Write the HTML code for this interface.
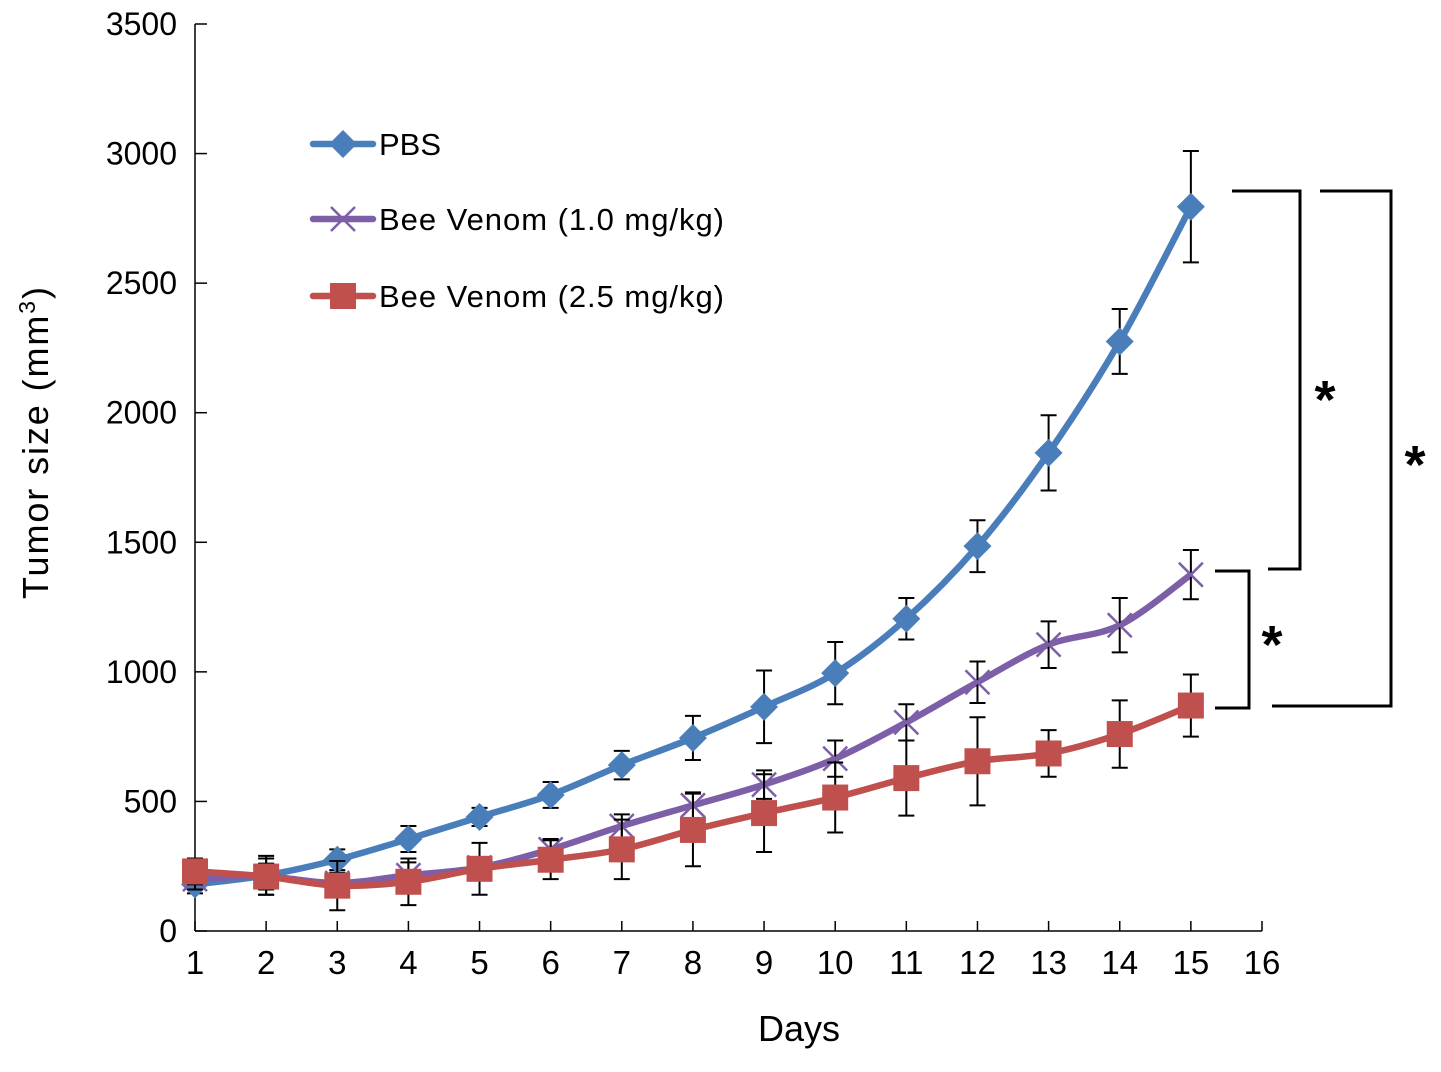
<!DOCTYPE html>
<html><head><meta charset="utf-8"><style>
html,body{margin:0;padding:0;background:#fff;}
svg text{font-family:"Liberation Sans",sans-serif;}
</style></head><body>
<svg id="chart" width="1441" height="1067" viewBox="0 0 1441 1067" xmlns="http://www.w3.org/2000/svg">
<rect width="1441" height="1067" fill="#fff"/>
<g id="axes"></g>
<g id="series"></g>
<g id="legend"></g>
<g id="sig"></g>
<text x="799" y="1041" font-size="36" text-anchor="middle">Days</text>
<text transform="translate(48,443) rotate(-90)" font-size="36" text-anchor="middle" textLength="312">Tumor size (mm<tspan font-size="23" dy="-13">3</tspan><tspan dy="13">)</tspan></text>
</svg>
<script>
const days=[1,2,3,4,5,6,7,8,9,10,11,12,13,14,15];
const xTicks=[1,2,3,4,5,6,7,8,9,10,11,12,13,14,15,16];
const yTicks=[0,500,1000,1500,2000,2500,3000,3500];
const pbs=[180,215,275,355,440,525,640,745,865,995,1205,1485,1845,2275,2795];
const pbsErr=[35,75,40,50,35,50,55,85,140,120,80,100,145,125,215];
const bv1=[200,210,185,215,245,315,405,485,565,665,805,960,1105,1180,1375];
const bv1Err=[40,50,40,50,40,40,45,50,55,70,70,80,90,105,95];
const bv2=[230,210,175,190,240,275,315,390,455,515,590,655,685,760,870];
const bv2Err=[50,70,95,90,100,75,115,140,150,135,145,170,90,130,120];
const NS='http://www.w3.org/2000/svg';
const X=d=>195+(d-1)*(1262-195)/15;
const Y=v=>931-v*(931-24)/3500;
function el(tag,attrs,parent){const e=document.createElementNS(NS,tag);for(const k in attrs)e.setAttribute(k,attrs[k]);parent.appendChild(e);return e;}
const axes=document.getElementById('axes');
let a=el('line',{x1:195,y1:24,x2:195,y2:931,stroke:'#000','stroke-width':1.5},axes);


a=el('line',{x1:195,y1:931,x2:1262,y2:931,stroke:'#000','stroke-width':1.5},axes);


yTicks.forEach(v=>{
 el('line',{x1:195,y1:Y(v),x2:207,y2:Y(v),stroke:'#000','stroke-width':1.5},axes);
 const t=el('text',{x:177,y:Y(v)+11,'font-size':32,'text-anchor':'end'},axes);t.textContent=v;
 
 
});
xTicks.forEach(d=>{
 el('line',{x1:X(d),y1:931,x2:X(d),y2:921,stroke:'#000','stroke-width':1.5},axes);
 const t=el('text',{x:X(d),y:974,'font-size':33,'text-anchor':'middle'},axes);t.textContent=d;
 
 
});
function smooth(pts){let d='M'+pts[0][0]+','+pts[0][1];
 for(let i=0;i<pts.length-1;i++){const p0=pts[i-1]||pts[i],p1=pts[i],p2=pts[i+1],p3=pts[i+2]||p2;const k=1/6;
  d+=' C'+(p1[0]+(p2[0]-p0[0])*k)+','+(p1[1]+(p2[1]-p0[1])*k)+' '+(p2[0]-(p3[0]-p1[0])*k)+','+(p2[1]-(p3[1]-p1[1])*k)+' '+p2[0]+','+p2[1];}
 return d;}
function marker(type,x,y,g,color){
 if(type==='diamond')return el('path',{d:`M${x},${y-14}L${x+14},${y}L${x},${y+14}L${x-14},${y}Z`,fill:color},g);
 if(type==='square')return el('rect',{x:x-13,y:y-13,width:26,height:26,fill:color},g);
 return el('path',{d:`M${x-12},${y-12}L${x+12},${y+12}M${x-12},${y+12}L${x+12},${y-12}`,stroke:color,'stroke-width':2.5},g);
}
const sg=document.getElementById('series');
const defs=[{name:'pbs',v:pbs,e:pbsErr,c:'#4a7ebb',m:'diamond'},{name:'bv1',v:bv1,e:bv1Err,c:'#7d5fa8',m:'x'},{name:'bv2',v:bv2,e:bv2Err,c:'#c0504d',m:'square'}];
defs.forEach(s=>{
 const g=el('g',{},sg);
 
 
 const pts=days.map((d,i)=>[X(d),Y(s.v[i])]);
 el('path',{d:smooth(pts),fill:'none',stroke:s.c,'stroke-width':6.5,'stroke-linejoin':'round'},g);
 days.forEach((d,i)=>{
  const x=X(d),y1=Y(s.v[i]+s.e[i]),y2=Y(s.v[i]-s.e[i]);
  const eb=el('path',{d:`M${x},${y1}L${x},${y2}M${x-8},${y1}L${x+8},${y1}M${x-8},${y2}L${x+8},${y2}`,stroke:'#000','stroke-width':2,fill:'none'},g);
  
  
 });
 days.forEach((d,i)=>{
  const m=marker(s.m,X(d),Y(s.v[i]),g,s.c);
  
  
 });
});
const lg=document.getElementById('legend');
[['PBS','#4a7ebb','diamond',144,0],['Bee Venom (1.0 mg/kg)','#7d5fa8','x',219,345],['Bee Venom (2.5 mg/kg)','#c0504d','square',296,345]].forEach(([label,c,m,y,w])=>{
 const g=el('g',{},lg);
 
 
 el('line',{x1:313,y1:y,x2:373,y2:y,stroke:c,'stroke-width':6.5,'stroke-linecap':'round'},g);
 marker(m,343,y,g,c);
 const t=el('text',{x:379,y:y+11,'font-size':31},g);t.textContent=label;
 if(w)t.setAttribute('textLength',w);
});
const sig=document.getElementById('sig');
[['M1232,191 L1300,191 L1300,569 L1268,569',1325,418],['M1320,191 L1391,191 L1391,706 L1272,706',1415,483],['M1215,571 L1249,571 L1249,708 L1215,708',1272,663]].forEach(([d,sx,sy])=>{
 const p=el('path',{d:d,fill:'none',stroke:'#000','stroke-width':3},sig);
 
 
 const t=el('text',{x:sx,y:sy,'font-size':54,'font-weight':'bold','text-anchor':'middle'},sig);t.textContent='*';
 
 
});
</script>
</body></html>
